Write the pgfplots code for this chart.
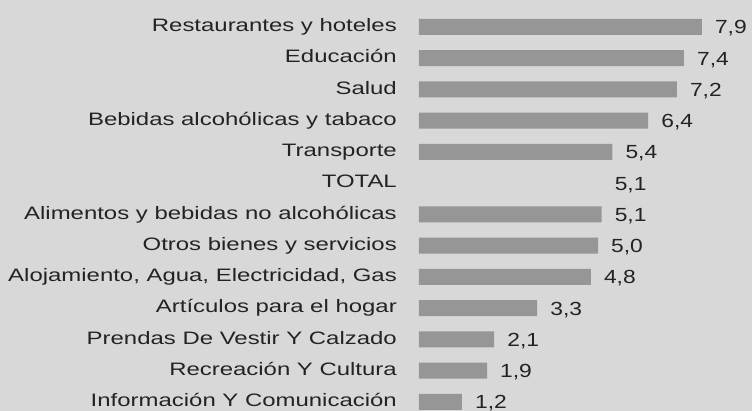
\documentclass[border=0pt]{standalone}
\usepackage{fontspec}
\setmainfont{Liberation Sans}
\newfontfamily\labfont[FakeStretch=1.33]{Liberation Sans}
\newfontfamily\valfont[FakeStretch=1.2]{Liberation Sans}
\usepackage{pgfplots}
\pgfplotsset{compat=1.18}
\usetikzlibrary{backgrounds}
\definecolor{bg}{RGB}{216,216,216}
\definecolor{barc}{RGB}{150,150,150}
\definecolor{txt}{RGB}{35,35,35}
\begin{document}
\begin{tikzpicture}
\begin{axis}[name=ax, xbar, bar width=16pt, bar shift=0pt,
  scale only axis, width=333pt, height=411pt,
  xmin=0, xmax=9.30, ymin=-0.864, ymax=12.29, y dir=reverse,
  axis line style={draw=none}, tick style={draw=none}, major tick length=0pt,
  xtick=\empty, ytick={0,...,12},
  yticklabels={Restaurantes y hoteles, Educación, Salud, Bebidas alcohólicas y tabaco, Transporte, TOTAL, Alimentos y bebidas no alcohólicas, Otros bienes y servicios, {Alojamiento, Agua, Electricidad, Gas}, Artículos para el hogar, Prendas De Vestir Y Calzado, Recreación Y Cultura, Información Y Comunicación},
  yticklabel style={font=\labfont\fontsize{18}{21}\selectfont, text=txt, anchor=base east, inner sep=0pt, xshift=-22pt, yshift=-4.7pt},
  point meta=x,
  /pgf/number format/assume math mode=true,
  nodes near coords={\pgfmathprintnumber[fixed, fixed zerofill, precision=1, use comma, assume math mode=true]{\pgfplotspointmeta}},
  every node near coord/.append style={anchor=base west, font=\valfont\fontsize{19}{22}\selectfont, text=txt, inner sep=0pt, xshift=13pt, yshift=-6.8pt},
]
\addplot[fill=barc, draw=none] coordinates {(7.9,0) (7.4,1) (7.2,2) (6.4,3) (5.4,4) (5.1,6) (5.0,7) (4.8,8) (3.3,9) (2.1,10) (1.9,11) (1.2,12)};
\addplot[fill=bg, draw=none] coordinates {(5.1,5)};
\end{axis}
\begin{scope}[on background layer]
\fill[bg] ([xshift=-419pt]ax.south west) rectangle (ax.north east);
\end{scope}
\pgfresetboundingbox
\path[use as bounding box] ([xshift=-419pt]ax.south west) rectangle (ax.north east);
\end{tikzpicture}
\end{document}
